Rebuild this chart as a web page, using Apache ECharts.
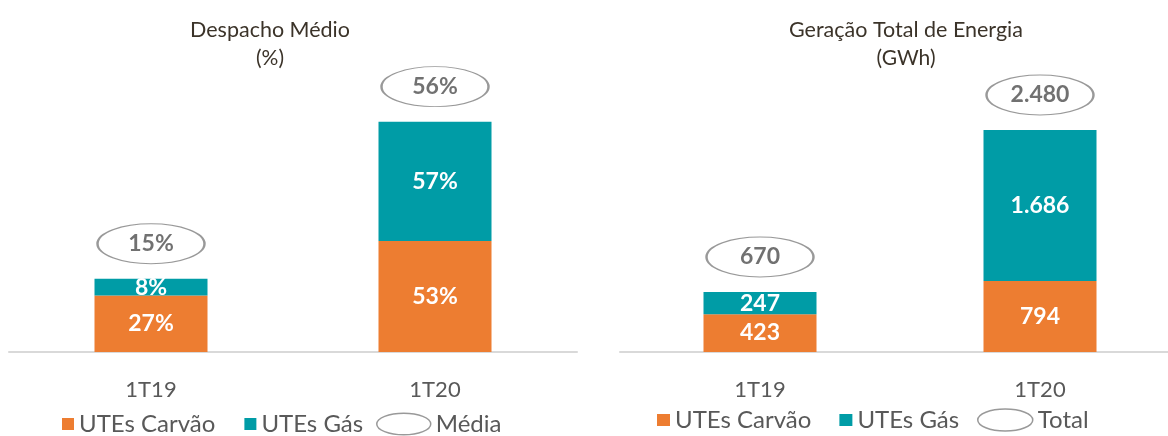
<!DOCTYPE html>
<html>
<head>
<meta charset="utf-8">
<script src="https://cdn.jsdelivr.net/npm/echarts@6/dist/echarts.min.js"></script>
<style>
  html, body { margin: 0; padding: 0; background: #fff; }
  #chart { width: 1168px; height: 436px; }
</style>
</head>
<body>
<div id="chart"></div>
<script>
  // dados
  const periodos = ['1T19', '1T20'];
  const despachoCarvao = [27, 53];
  const despachoGas = [8, 57];
  const despachoMedia = [15, 56];
  const geracaoCarvao = [423, 794];
  const geracaoGas = [247, 1686];
  const geracaoTotal = [670, 2480];

  const LARANJA = '#ED7D31';
  const TEAL = '#009CA6';
  const CINZA = '#595959';
  const FONTE = 'Lato, "Open Sans", sans-serif';
  const ELIPSE = 'path://M0,20A50,20,0,1,1,100,20A50,20,0,1,1,0,20Z';

  const milhar = v => String(v).replace(/\B(?=(\d{3})+(?!\d))/g, '.');

  const chart = echarts.init(document.getElementById('chart'));

  function barra(nome, dados, cor, idx, fmt) {
    return {
      name: nome, type: 'bar', stack: 'p' + idx,
      xAxisIndex: idx, yAxisIndex: idx,
      barWidth: 113, data: dados,
      itemStyle: { color: cor },
      label: {
        show: true, position: 'inside', color: '#fff',
        fontWeight: 'bold', fontSize: 23, fontFamily: FONTE,
        formatter: p => fmt(p.value)
      }
    };
  }

  function elipse(nome, base1, base2, valores, idx, fmt) {
    return {
      name: nome, type: 'scatter',
      xAxisIndex: idx, yAxisIndex: idx,
      data: periodos.map((p, i) => [p, base1[i] + base2[i], valores[i]]),
      symbol: ELIPSE, symbolSize: [107, 40], symbolOffset: [0, -35],
      itemStyle: { color: 'rgba(0,0,0,0)', borderColor: '#808080', borderWidth: 1.5 },
      label: {
        show: true, position: 'inside', color: '#4d4d4d',
        fontWeight: 'bold', fontSize: 23, fontFamily: FONTE,
        formatter: p => fmt(p.value[2])
      },
      z: 3
    };
  }

  const eixoX = (idx) => ({
    type: 'category', gridIndex: idx, data: periodos,
    axisLine: { lineStyle: { color: '#d9d9d9', width: 2 } },
    axisTick: { show: false },
    axisLabel: { color: CINZA, fontSize: 22, fontFamily: FONTE, margin: 27 }
  });

  const titulo = (texto, sub, x) => ({
    text: texto, subtext: sub, left: x, textAlign: 'center', top: 14, itemGap: 7,
    textStyle: { fontSize: 21.5, fontWeight: 'normal', color: '#3b3329', fontFamily: FONTE },
    subtextStyle: { fontSize: 21, color: '#3b3329', fontFamily: FONTE }
  });

  const legendaBase = { orient: 'horizontal', padding: 0, textStyle: { color: CINZA, fontSize: 24, fontFamily: FONTE } };
  const estiloElipse = { color: 'rgba(0,0,0,0)', borderColor: '#808080', borderWidth: 1.5 };

  const option = {
    animation: false,
    title: [
      titulo('Despacho Médio', '(%)', 265),
      titulo('Geração Total de Energia', '(GWh)', 901)
    ],
    grid: [
      { left: 9, width: 568, top: 40, bottom: 84, outerBoundsMode: 'none' },
      { left: 620, width: 560, top: 40, bottom: 84, outerBoundsMode: 'none' }
    ],
    xAxis: [eixoX(0), eixoX(1)],
    yAxis: [
      { type: 'value', gridIndex: 0, min: 0, max: 149, show: false },
      { type: 'value', gridIndex: 1, min: 0, max: 3486, show: false }
    ],
    legend: [
      Object.assign({}, legendaBase, { left: 62, top: 412, itemWidth: 12, itemHeight: 12, itemGap: 29, icon: 'rect',
        data: ['UTEs Carvão', 'UTEs Gás'] }),
      Object.assign({}, legendaBase, { left: 376, top: 412, itemWidth: 54, itemHeight: 24,
        data: [{ name: 'Média', icon: ELIPSE, itemStyle: estiloElipse }] }),
      Object.assign({}, legendaBase, { left: 657, top: 408, itemWidth: 13, itemHeight: 12, itemGap: 28, icon: 'rect',
        data: ['UTEs Carvão', 'UTEs Gás'] }),
      Object.assign({}, legendaBase, { left: 977, top: 408, itemWidth: 55, itemHeight: 24,
        data: [{ name: 'Total', icon: ELIPSE, itemStyle: estiloElipse }] })
    ],
    series: [
      barra('UTEs Carvão', despachoCarvao, LARANJA, 0, v => v + '%'),
      barra('UTEs Gás', despachoGas, TEAL, 0, v => v + '%'),
      elipse('Média', despachoCarvao, despachoGas, despachoMedia, 0, v => v + '%'),
      barra('UTEs Carvão', geracaoCarvao, LARANJA, 1, milhar),
      barra('UTEs Gás', geracaoGas, TEAL, 1, milhar),
      elipse('Total', geracaoCarvao, geracaoGas, geracaoTotal, 1, milhar)
    ]
  };

  chart.setOption(option);
</script>
</body>
</html>
